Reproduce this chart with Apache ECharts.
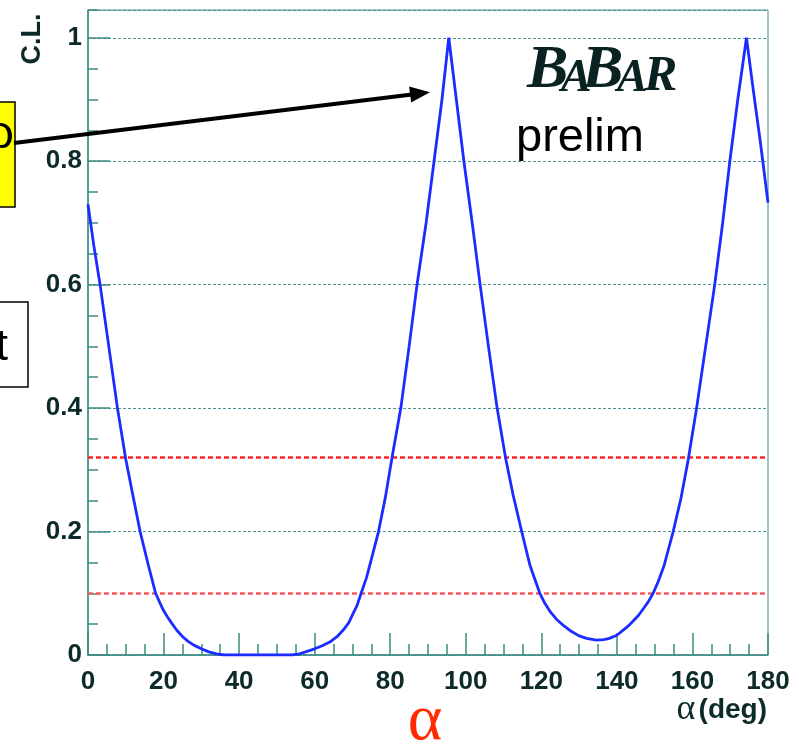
<!DOCTYPE html>
<html>
<head>
<meta charset="utf-8">
<script src="https://cdn.jsdelivr.net/npm/echarts@6/dist/echarts.min.js"></script>
<style>
html,body{margin:0;padding:0;background:#fff;}
#c{width:809px;height:743px;}
</style>
</head>
<body>
<div id="c"></div>
<script>
// alpha (deg) values
const alphaDeg = [0, 1.5, 3.2, 5.5, 7.8, 10.0, 12, 13.8, 16, 17.9, 19, 20, 21, 22.1, 23.5, 25, 26.5, 28, 30, 32, 34, 36, 40, 45, 50, 54, 56, 58, 60, 62, 64, 66, 67.5, 69, 70, 71.2, 72.3, 73.7, 75, 76.9, 78.7, 80.4, 82.8, 85, 87.1, 89.5, 91.6, 93.7, 95.5, 97.5, 99.5, 101.7, 103.8, 106, 108.3, 110.6, 112.5, 114.8, 117, 119.6, 121, 122.5, 124, 126, 128, 130, 132, 134.6, 136.5, 138, 140, 142, 143.2, 144.3, 145.7, 147, 148.3, 149.6, 151, 152.5, 154.9, 157, 158.9, 161.1, 163.5, 165.9, 168, 169.9, 172, 174.3, 176, 178, 180];
// confidence level values
const clValues = [0.73, 0.665, 0.6, 0.5, 0.4, 0.317, 0.255, 0.2, 0.145, 0.1, 0.085, 0.072, 0.062, 0.052, 0.04, 0.03, 0.022, 0.016, 0.01, 0.005, 0.002, 0.0, 0, 0, 0, 0, 0.002, 0.006, 0.01, 0.015, 0.021, 0.03, 0.04, 0.052, 0.065, 0.08, 0.1, 0.125, 0.155, 0.2, 0.255, 0.317, 0.4, 0.5, 0.6, 0.7, 0.8, 0.9, 1.0, 0.9, 0.8, 0.7, 0.6, 0.5, 0.4, 0.317, 0.26, 0.2, 0.145, 0.1, 0.083, 0.069, 0.058, 0.047, 0.038, 0.031, 0.027, 0.024, 0.025, 0.027, 0.032, 0.042, 0.048, 0.055, 0.064, 0.075, 0.086, 0.1, 0.12, 0.145, 0.2, 0.255, 0.317, 0.4, 0.5, 0.6, 0.7, 0.8, 0.9, 1.0, 0.92, 0.83, 0.733];
// reference C.L. levels (red dashed lines)
const clLevels = [0.317, 0.1];
// tick labels
const xTickLabels = ['0','20','40','60','80','100','120','140','160','180'];
const yTickLabels = ['0','0.2','0.4','0.6','0.8','1'];

const seriesData = alphaDeg.map((a, i) => [a, clValues[i]]);
const axisCol = '#3c8c84';
const labCol = '#0c2a2a';
const labFont = 'Liberation Sans';

const chart = echarts.init(document.getElementById('c'), null, {renderer: 'canvas'});

const letters = [
  {t: 'B', x: 527, s: 62},
  {t: 'A', x: 561, s: 46},
  {t: 'B', x: 582, s: 62},
  {t: 'A', x: 617, s: 46},
  {t: 'R', x: 644, s: 50}
];

chart.setOption({
  backgroundColor: '#ffffff',
  animation: false,
  grid: {left: 88, right: 41, top: 10, bottom: 88, show: true, borderColor: axisCol, borderWidth: 1, backgroundColor: 'transparent'},
  xAxis: [{
    type: 'value', min: 0, max: 180, interval: 20, position: 'bottom',
    axisLine: {show: true, lineStyle: {color: axisCol, width: 1.5}},
    axisTick: {show: true, inside: true, length: 22, lineStyle: {color: axisCol, width: 1.5}},
    minorTick: {show: true, splitNumber: 4, length: 11, lineStyle: {color: axisCol, width: 1.5}},
    axisLabel: {color: labCol, fontFamily: labFont, fontWeight: 'bold', fontSize: 26, margin: 14,
      formatter: v => { const i = xTickLabels.indexOf(String(Math.round(v))); return i >= 0 ? xTickLabels[i] : ''; }},
    splitLine: {show: false}
  }],
  yAxis: [{
    type: 'value', min: 0, max: 1.045, interval: 0.2, position: 'left',
    axisLine: {show: true, lineStyle: {color: axisCol, width: 1.5}},
    axisTick: {show: true, inside: true, length: 22, lineStyle: {color: axisCol, width: 1.5}},
    axisLabel: {color: labCol, fontFamily: labFont, fontWeight: 'bold', fontSize: 26, margin: 6,
      showMaxLabel: false,
      formatter: v => { if (v > 1.001) return ''; const i = Math.round(v / 0.2); return yTickLabels[i] || ''; }},
    splitLine: {show: true, lineStyle: {color: '#4f9494', width: 1, type: [3, 2]}}
  }, {
    type: 'value', min: 0, max: 1.045, interval: 0.05, position: 'left',
    axisLine: {show: false},
    axisTick: {show: true, inside: true, length: 10, lineStyle: {color: axisCol, width: 1.5}},
    axisLabel: {show: false},
    splitLine: {show: false}
  }],
  series: [{
    type: 'line', data: seriesData, xAxisIndex: 0, yAxisIndex: 0,
    showSymbol: false, smooth: false,
    lineStyle: {color: '#1a2cff', width: 2.8},
    z: 5,
    markLine: {
      silent: true, symbol: ['none', 'none'], label: {show: false},
      data: clLevels.map((v, i) => ({yAxis: v, lineStyle: {color: i === 0 ? '#ff2424' : '#ff5a5a', width: 2.5, type: [5, 3]}}))
    }
  }],
  graphic: [
    {type: 'text', x: 33, y: 39, rotation: Math.PI / 2, z: 10,
     style: {text: 'C.L.', fill: labCol, font: 'bold 27px "Liberation Sans"', textAlign: 'center', textVerticalAlign: 'middle'}},
    ...letters.map(L => ({type: 'text', x: L.x, y: 102, z: 10,
     style: {text: L.t, fill: '#0a2222', font: 'italic bold ' + L.s + 'px "Liberation Serif"', textAlign: 'left', textVerticalAlign: 'bottom'}})),
    {type: 'text', x: 516, y: 138, z: 10,
     style: {text: 'prelim', fill: '#000', font: '47px "Liberation Sans"', textAlign: 'left', textVerticalAlign: 'middle'}},
    {type: 'text', x: 767, y: 710, z: 10,
     style: {text: '{a|α} {b|(deg)}', textAlign: 'right', textVerticalAlign: 'middle',
       rich: {a: {fill: labCol, font: '36px "Liberation Serif"'}, b: {fill: labCol, font: 'bold 28px "Liberation Sans"'}}}},
    {type: 'text', x: 425, y: 722, z: 10,
     style: {text: 'α', fill: '#ff2a00', font: '66px "Liberation Serif"', textAlign: 'center', textVerticalAlign: 'middle'}},
    {type: 'rect', shape: {x: -5, y: 102, width: 20, height: 105}, z: 10,
     style: {fill: '#ffff00', stroke: '#000', lineWidth: 1.5}},
    {type: 'text', x: 14, y: 135, z: 11,
     style: {text: 'ρ', fill: '#000', font: '46px "Liberation Sans"', textAlign: 'right', textVerticalAlign: 'middle'}},
    {type: 'rect', shape: {x: -5, y: 302, width: 33, height: 85}, z: 10,
     style: {fill: '#ffffff', stroke: '#000', lineWidth: 1.5}},
    {type: 'text', x: 8, y: 348, z: 11,
     style: {text: 't', fill: '#000', font: '44px "Liberation Sans"', textAlign: 'right', textVerticalAlign: 'middle'}},
    {type: 'line', shape: {x1: 14, y1: 143, x2: 412, y2: 94.5}, z: 12,
     style: {stroke: '#000', lineWidth: 4}},
    {type: 'polygon', shape: {points: [[430, 92.2], [411.1, 102.4], [409.1, 86.5]]}, z: 12,
     style: {fill: '#000'}}
  ]
});
</script>
</body>
</html>
